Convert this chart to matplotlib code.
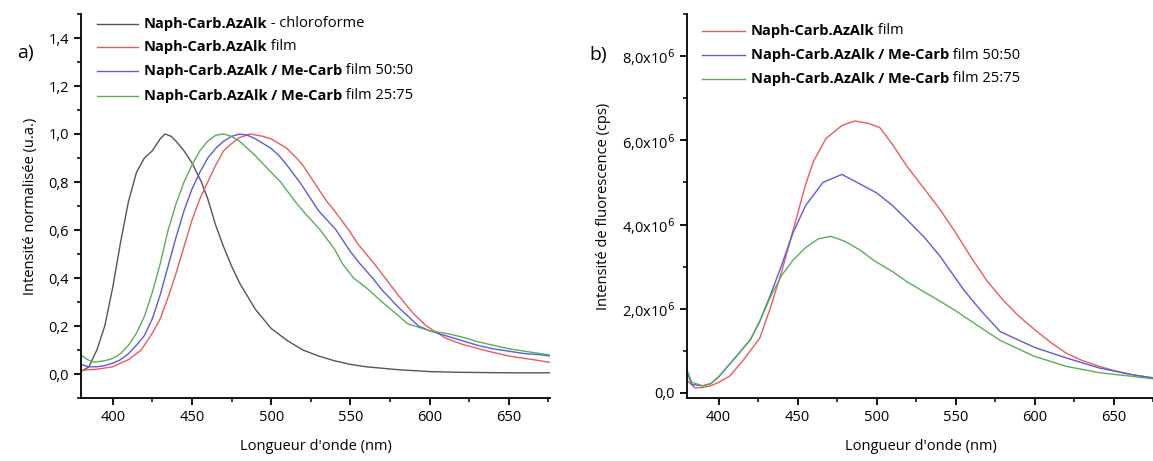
import matplotlib.pyplot as plt
from matplotlib.ticker import MultipleLocator, FuncFormatter

plt.rcParams['font.family'] = ['Open Sans', 'DejaVu Sans']

# ---- panel a : normalised emission ----
wl_chloro = [380, 385, 390, 395, 400, 405, 410, 415, 420, 425, 430, 433, 437, 440, 445, 450,
             456, 460, 465, 470, 475, 480, 490, 500, 510, 520, 530, 540, 550, 560, 580, 600,
             620, 650, 676]
chloro = [0.01, 0.03, 0.10, 0.20, 0.36, 0.55, 0.72, 0.84, 0.90, 0.93, 0.98, 1.00, 0.99, 0.97,
          0.93, 0.88, 0.80, 0.73, 0.62, 0.53, 0.45, 0.38, 0.27, 0.19, 0.14, 0.10, 0.075, 0.055,
          0.04, 0.03, 0.018, 0.01, 0.007, 0.005, 0.005]

wl_film = [380, 390, 400, 410, 418, 425, 430, 435, 440, 445, 450, 455, 460, 465, 470, 475, 480,
           487, 495, 500, 505, 510, 516, 520, 527, 535, 540, 549, 555, 560, 565, 572, 580, 590,
           598, 610, 620, 634, 640, 650, 660, 670, 676]
film_norm = [0.015, 0.02, 0.03, 0.06, 0.10, 0.17, 0.23, 0.32, 0.42, 0.53, 0.64, 0.73, 0.80,
             0.87, 0.93, 0.96, 0.985, 1.00, 0.99, 0.98, 0.96, 0.94, 0.90, 0.87, 0.80, 0.72, 0.68,
             0.60, 0.54, 0.50, 0.46, 0.40, 0.33, 0.25, 0.20, 0.15, 0.125, 0.10, 0.09, 0.075, 0.065,
             0.055, 0.048]

wl_5050 = [380, 385, 390, 395, 400, 405, 410, 415, 420, 425, 430, 435, 440, 445, 450, 455, 460,
           465, 470, 475, 480, 485, 490, 495, 500, 505, 510, 518, 525, 530, 541, 550, 556, 564,
           570, 580, 593, 600, 610, 620, 630, 640, 650, 660, 670, 676]
mix5050_norm = [0.04, 0.03, 0.03, 0.035, 0.045, 0.06, 0.085, 0.12, 0.16, 0.23, 0.33, 0.45,
                0.57, 0.68, 0.77, 0.84, 0.90, 0.94, 0.97, 0.99, 1.00, 0.995, 0.98, 0.96, 0.94,
                0.91, 0.87, 0.80, 0.73, 0.68, 0.60, 0.51, 0.46, 0.40, 0.35, 0.28, 0.20, 0.18,
                0.16, 0.14, 0.12, 0.105, 0.095, 0.085, 0.08, 0.075]

wl_2575 = [380, 384, 388, 395, 400, 405, 410, 415, 420, 425, 430, 435, 440, 445, 450, 455, 460,
           465, 470, 475, 480, 490, 500, 506, 515, 520, 531, 540, 545, 552, 560, 570, 580, 586,
           600, 610, 620, 630, 640, 650, 660, 670, 676]
mix2575_norm = [0.08, 0.06, 0.05, 0.055, 0.065, 0.085, 0.12, 0.17, 0.24, 0.34, 0.46, 0.60,
                0.71, 0.80, 0.87, 0.93, 0.97, 0.995, 1.00, 0.99, 0.97, 0.91, 0.84, 0.80, 0.72,
                0.68, 0.60, 0.52, 0.46, 0.40, 0.36, 0.30, 0.245, 0.21, 0.18, 0.17, 0.155, 0.135,
                0.12, 0.105, 0.095, 0.085, 0.08]

# ---- panel b : raw emission (x 1e6 cps) ----
wl_b_film = [380, 385, 390, 395, 400, 407, 415, 426, 433, 440, 447, 455, 460, 468, 478, 486,
             495, 502, 510, 519, 530, 540, 550, 560, 570, 580, 590, 600, 610, 620, 630, 641,
             650, 662, 676]
film_cps = [0.30, 0.12, 0.13, 0.17, 0.25, 0.40, 0.75, 1.30, 2.05, 2.90, 3.85, 4.95, 5.50, 6.05,
            6.35, 6.46, 6.40, 6.30, 5.90, 5.39, 4.85, 4.36, 3.80, 3.20, 2.65, 2.20, 1.82, 1.50,
            1.20, 0.94, 0.77, 0.63, 0.53, 0.43, 0.35]

wl_b_5050 = [380, 383, 390, 395, 400, 405, 411, 420, 426, 433, 440, 447, 455, 466, 478, 490,
             500, 510, 519, 530, 540, 555, 566, 578, 590, 600, 620, 641, 662, 676]
mix5050_cps = [0.50, 0.20, 0.17, 0.22, 0.38, 0.60, 0.86, 1.26, 1.70, 2.35, 3.05, 3.80, 4.45,
               5.00, 5.19, 4.95, 4.75, 4.45, 4.12, 3.70, 3.25, 2.45, 1.95, 1.46, 1.25, 1.08,
               0.83, 0.59, 0.43, 0.35]

wl_b_2575 = [380, 383, 390, 395, 400, 405, 411, 420, 426, 433, 440, 447, 455, 463, 471, 480,
             490, 498, 510, 520, 530, 540, 550, 563, 578, 599, 620, 641, 660, 676]
mix2575_cps = [0.55, 0.25, 0.17, 0.22, 0.38, 0.60, 0.86, 1.26, 1.70, 2.30, 2.80, 3.15, 3.45,
               3.66, 3.72, 3.60, 3.38, 3.15, 2.88, 2.62, 2.40, 2.18, 1.95, 1.62, 1.25, 0.88,
               0.63, 0.48, 0.40, 0.33]

labels_a = [("Naph-Carb.AzAlk", " - chloroforme"),
            ("Naph-Carb.AzAlk", " film"),
            ("Naph-Carb.AzAlk / Me-Carb", " film 50:50"),
            ("Naph-Carb.AzAlk / Me-Carb", " film 25:75")]
labels_b = labels_a[1:]

c_grey, c_red, c_blue, c_green = '#555555', '#ec5a5e', '#5b5bdc', '#5aad5a'
fs = 10.5


def style(ax, ymin, ymax):
    ax.set_xlim(380, 676)
    ax.set_ylim(ymin, ymax)
    for s in ('top', 'right'):
        ax.spines[s].set_visible(False)
    for s in ('left', 'bottom'):
        ax.spines[s].set_linewidth(1.3)
    ax.xaxis.set_major_locator(MultipleLocator(50))
    ax.xaxis.set_minor_locator(MultipleLocator(25))
    ax.tick_params(which='major', direction='out', length=5, width=1.3, labelsize=fs)
    ax.tick_params(which='minor', direction='out', length=3, width=1.1)
    ax.set_xlabel("Longueur d'onde (nm)", fontsize=fs, labelpad=10)


def legend(ax, x0, x1, ys, colors, labels):
    for y, c, (b, n) in zip(ys, colors, labels):
        ax.plot([x0, x1], [y, y], color=c, lw=1.0, transform=ax.transAxes, clip_on=False)
        t = ax.text(x1 + 0.012, y, b, fontsize=fs, fontweight='bold', va='center',
                    transform=ax.transAxes)
        ax.annotate(n, xy=(1, 0.5), xycoords=t, va='center', ha='left', fontsize=fs)


fig = plt.figure(figsize=(11.53, 4.61), dpi=100)

ax1 = fig.add_axes([81 / 1153, 63 / 461, 469 / 1153, 384 / 461])
ax1.plot(wl_chloro, chloro, color=c_grey, lw=1.0)
ax1.plot(wl_film, film_norm, color=c_red, lw=1.0)
ax1.plot(wl_5050, mix5050_norm, color=c_blue, lw=1.0)
ax1.plot(wl_2575, mix2575_norm, color=c_green, lw=1.0)
style(ax1, -0.1, 1.5)
ax1.yaxis.set_major_locator(MultipleLocator(0.2))
ax1.yaxis.set_minor_locator(MultipleLocator(0.1))
ax1.yaxis.set_major_formatter(FuncFormatter(lambda v, p: f"{v:.1f}".replace('.', ',')))
ax1.set_ylabel("Intensité normalisée (u.a.)", fontsize=fs, labelpad=8)
legend(ax1, 0.034, 0.122, [0.975, 0.915, 0.852, 0.787],
       [c_grey, c_red, c_blue, c_green], labels_a)
fig.text(25 / 1153, 1 - 53 / 461, "a)", fontsize=14, ha='center', va='center')

ax2 = fig.add_axes([687 / 1153, 63 / 461, 468 / 1153, 384 / 461])
ax2.plot(wl_b_film, [v * 1e6 for v in film_cps], color=c_red, lw=1.0)
ax2.plot(wl_b_5050, [v * 1e6 for v in mix5050_cps], color=c_blue, lw=1.0)
ax2.plot(wl_b_2575, [v * 1e6 for v in mix2575_cps], color=c_green, lw=1.0)
style(ax2, -0.12e6, 9.0e6)
ax2.yaxis.set_major_locator(MultipleLocator(2e6))
ax2.yaxis.set_minor_locator(MultipleLocator(1e6))
ax2.yaxis.set_major_formatter(FuncFormatter(
    lambda v, p: "0,0" if abs(v) < 1 else f"{v / 1e6:.1f}".replace('.', ',') + "x10$^{6}$"))
ax2.set_ylabel("Intensité de fluorescence (cps)", fontsize=fs, labelpad=8)
legend(ax2, 0.032, 0.124, [0.957, 0.892, 0.832], [c_red, c_blue, c_green], labels_b)
fig.text(598 / 1153, 1 - 55 / 461, "b)", fontsize=14, ha='center', va='center')

fig.savefig('out.png', dpi=100)
